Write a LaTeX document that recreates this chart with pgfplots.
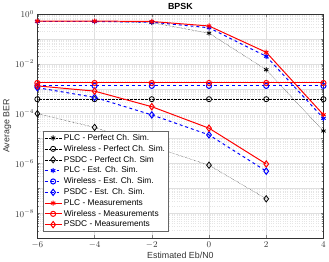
\documentclass[border=0pt]{standalone}
\usepackage{pgfplots}
\pgfplotsset{compat=1.18}
\usepackage{fontspec}
\setmainfont{Liberation Sans}
\begin{document}
\begin{tikzpicture}
\begin{axis}[
  scale only axis,
  width=291pt, height=228pt,
  xmin=-6, xmax=4, ymin=1e-9, ymax=1,
  ymode=log,
  xtick={-6,-4,-2,0,2,4},
  ytick={1e-9,1e-8,1e-7,1e-6,1e-5,1e-4,1e-3,1e-2,1e-1,1},
  yticklabels={,$10^{-8}$,,$10^{-6}$,,$10^{-4}$,,$10^{-2}$,,$10^{0}$},
  tick label style={font=\fontsize{9}{10}\selectfont, text=black!80},
  label style={font=\fontsize{9}{10}\selectfont, text=black!80},
  title style={font=\bfseries\fontsize{9}{10}\selectfont, yshift=-5pt},
  title={BPSK},
  xlabel={Estimated Eb/N0},
  ylabel={Average BER},
  xlabel style={yshift=3pt},
  ylabel style={yshift=-3pt},
  xmajorgrids, ymajorgrids, yminorgrids,
  major grid style={gray!25, thin},
  minor grid style={gray!20, dotted},
  tick align=inside,
  major tick length=3pt, minor tick length=1.5pt,
  axis line style={black!80},
  legend style={at={(0.02,0.03)}, anchor=south west, font=\fontsize{8.5}{11}\selectfont, draw=black!60, inner sep=1pt, row sep=-0.6pt, fill=white},
  legend cell align=left,
  every axis plot/.append style={mark size=2.6pt},
]
% PLC perfect
\addplot[black, densely dotted, thin, mark=asterisk, mark options={solid, line width=0.8pt}] coordinates {(-6,0.5) (-4,0.5) (-2,0.45) (0,0.17) (2,0.0058) (4,2.0e-5)};
% Wireless perfect
\addplot[black, densely dotted, thin, mark=o, mark options={solid, line width=0.8pt}] coordinates {(-6,3.8e-4) (-4,3.8e-4) (-2,3.8e-4) (0,3.8e-4) (2,3.8e-4) (4,3.8e-4)};
% PSDC perfect
\addplot[black, densely dotted, thin, mark=diamond, mark options={solid, line width=0.8pt}, mark size=3.2pt] coordinates {(-6,1e-4) (-4,2.8e-5) (0,8.5e-7) (2,3.8e-8)};
% PLC est
\addplot[blue, dashed, line width=1pt, mark=asterisk, mark options={solid}] coordinates {(-6,0.5) (-4,0.5) (-2,0.47) (0,0.28) (2,0.02) (4,6.5e-5)};
% Wireless est
\addplot[blue, dashed, line width=1pt, mark=o, mark options={solid}] coordinates {(-6,1.3e-3) (-4,1.3e-3) (-2,1.3e-3) (0,1.3e-3) (2,1.3e-3) (4,1.3e-3)};
% PSDC est
\addplot[blue, dashed, line width=1pt, mark=diamond, mark options={solid}, mark size=3.2pt] coordinates {(-6,1.1e-3) (-4,4.5e-4) (-2,8.9e-5) (0,1.4e-5) (2,4.9e-7)};
% PLC meas
\addplot[red, solid, line width=1pt, mark=asterisk] coordinates {(-6,0.52) (-4,0.52) (-2,0.5) (0,0.33) (2,0.029) (4,9e-5)};
% Wireless meas
\addplot[red, solid, line width=1pt, mark=o] coordinates {(-6,1.7e-3) (-4,1.7e-3) (-2,1.7e-3) (0,1.7e-3) (2,1.7e-3) (4,1.7e-3)};
% PSDC meas
\addplot[red, solid, line width=1pt, mark=diamond, mark size=3.2pt] coordinates {(-6,1.3e-3) (-4,8e-4) (-2,1.9e-4) (0,2.6e-5) (2,9.5e-7)};
\legend{PLC - Perfect Ch. Sim.,Wireless - Perfect Ch. Sim.,PSDC - Perfect Ch. Sim,PLC - Est. Ch. Sim.,Wireless - Est. Ch. Sim.,PSDC - Est. Ch. Sim.,PLC - Measurements,Wireless - Measurements,PSDC - Measurements}
\end{axis}
\end{tikzpicture}
\end{document}
